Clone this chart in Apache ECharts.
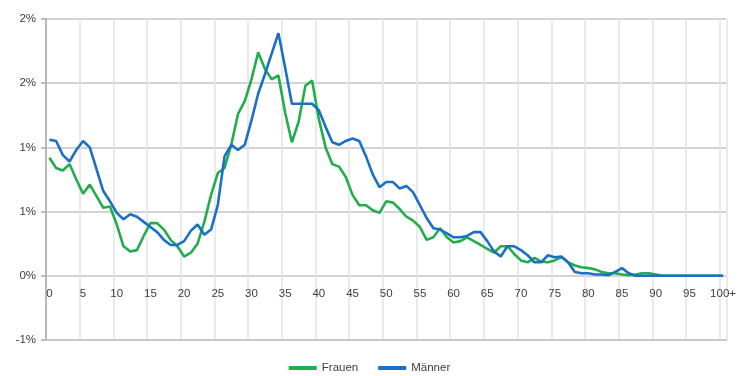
<!DOCTYPE html>
<html>
<head>
<meta charset="utf-8">
<script src="https://cdn.jsdelivr.net/npm/echarts@6/dist/echarts.min.js"></script>
<style>
  html, body { margin: 0; padding: 0; background: #ffffff; }
  #chart { width: 739px; height: 376px; }
</style>
</head>
<body>
<div id="chart"></div>
<script>
// Age groups 0 … 100+ (one category per year)
const ages = [];
for (let a = 0; a < 100; a++) ages.push(String(a));
ages.push('100+');

// Share of each age group, in percent
const frauen = [
  0.92, 0.84, 0.82, 0.87, 0.75, 0.64, 0.71, 0.62, 0.53, 0.54,
  0.40, 0.23, 0.19, 0.20, 0.31, 0.41, 0.41, 0.36, 0.28, 0.23,
  0.15, 0.18, 0.25, 0.42, 0.63, 0.80, 0.84, 1.02, 1.26, 1.36,
  1.53, 1.74, 1.61, 1.53, 1.56, 1.27, 1.04, 1.20, 1.48, 1.52,
  1.22, 1.00, 0.87, 0.85, 0.77, 0.63, 0.55, 0.55, 0.51, 0.49,
  0.58, 0.57, 0.52, 0.46, 0.43, 0.38, 0.28, 0.30, 0.37, 0.30,
  0.26, 0.27, 0.30, 0.27, 0.24, 0.21, 0.18, 0.23, 0.23, 0.17,
  0.12, 0.105, 0.14, 0.11, 0.105, 0.12, 0.145, 0.105, 0.08, 0.066,
  0.06, 0.05, 0.03, 0.02, 0.02, 0.01, 0.005, 0.01, 0.02, 0.02,
  0.01, 0, 0, 0, 0, 0, 0, 0, 0, 0,
  0
];

const maenner = [
  1.06, 1.05, 0.94, 0.89, 0.98, 1.05, 1.00, 0.83, 0.66, 0.58,
  0.49, 0.44, 0.48, 0.46, 0.42, 0.38, 0.34, 0.28, 0.24, 0.24,
  0.27, 0.35, 0.40, 0.32, 0.36, 0.55, 0.93, 1.02, 0.98, 1.02,
  1.21, 1.42, 1.57, 1.73, 1.89, 1.62, 1.34, 1.34, 1.34, 1.34,
  1.29, 1.16, 1.04, 1.02, 1.05, 1.07, 1.05, 0.93, 0.79, 0.69,
  0.73, 0.73, 0.68, 0.70, 0.65, 0.55, 0.45, 0.37, 0.36, 0.33,
  0.30, 0.30, 0.31, 0.34, 0.34, 0.27, 0.19, 0.15, 0.23, 0.23,
  0.20, 0.16, 0.105, 0.105, 0.16, 0.145, 0.15, 0.105, 0.03, 0.02,
  0.02, 0.01, 0.01, 0.005, 0.03, 0.06, 0.02, 0, 0, 0,
  0, 0, 0, 0, 0, 0, 0, 0, 0, 0,
  0
];

// Value-axis ticks and their printed (whole-percent) labels
const yTickValues = [-0.5, 0, 0.5, 1.0, 1.5, 2.0];
const yTickLabels = ['-1%', '0%', '1%', '1%', '2%', '2%'];

const seriesNames = ['Frauen', 'Männer'];
const seriesColors = ['#21ad4b', '#1b6fc6'];

const font = '"Liberation Sans", Arial, sans-serif';
const chart = echarts.init(document.getElementById('chart'), null, { renderer: 'canvas' });

const gridTop = 19, gridBottom = 36;
const plotHeight = 376 - gridTop - gridBottom;
// Age labels sit just under the 0 % line (which lies one tick above the bottom edge)
const zeroOffset = plotHeight * (0 - (-0.5)) / (2.0 - (-0.5));

chart.setOption({
  animation: false,
  backgroundColor: '#ffffff',
  grid: { left: 46, right: 10, top: gridTop, bottom: gridBottom, containLabel: false },
  legend: {
    bottom: 2,
    left: 'center',
    padding: [0, 5, 0, 5],
    itemWidth: 28,
    itemHeight: 4,
    itemGap: 20,
    icon: 'rect',
    textStyle: { fontFamily: font, fontSize: 11.5, color: '#404040' },
    data: seriesNames
  },
  xAxis: {
    type: 'category',
    data: ages,
    boundaryGap: true,
    axisLine: { onZero: false, lineStyle: { color: '#c4c4c4', width: 1.5 } },
    axisTick: { show: false },
    axisLabel: {
      interval: 4,
      margin: 12 - zeroOffset,
      fontFamily: font,
      fontSize: 11.5,
      color: '#404040'
    },
    splitLine: {
      show: true,
      interval: 4,
      lineStyle: { color: '#e3e3e3', width: 1.5 }
    }
  },
  yAxis: {
    type: 'value',
    min: -0.5,
    max: 2.0,
    interval: 0.5,
    axisLine: { show: true, lineStyle: { color: '#a8a8a8', width: 1.5 } },
    axisTick: { show: true, length: 5, lineStyle: { color: '#a8a8a8', width: 1.5 } },
    axisLabel: {
      margin: 10,
      fontFamily: font,
      fontSize: 11.5,
      color: '#404040',
      formatter: function (v) {
        const i = yTickValues.findIndex(t => Math.abs(t - v) < 1e-9);
        return i >= 0 ? yTickLabels[i] : '';
      }
    },
    splitLine: { show: true, lineStyle: { color: '#c4c4c4', width: 1.5 } }
  },
  series: [
    {
      name: seriesNames[0],
      type: 'line',
      data: frauen,
      symbol: 'none',
      lineStyle: { color: seriesColors[0], width: 2.6 },
      itemStyle: { color: seriesColors[0] },
      z: 2
    },
    {
      name: seriesNames[1],
      type: 'line',
      data: maenner,
      symbol: 'none',
      lineStyle: { color: seriesColors[1], width: 2.6 },
      itemStyle: { color: seriesColors[1] },
      z: 3
    }
  ]
});
</script>
</body>
</html>
